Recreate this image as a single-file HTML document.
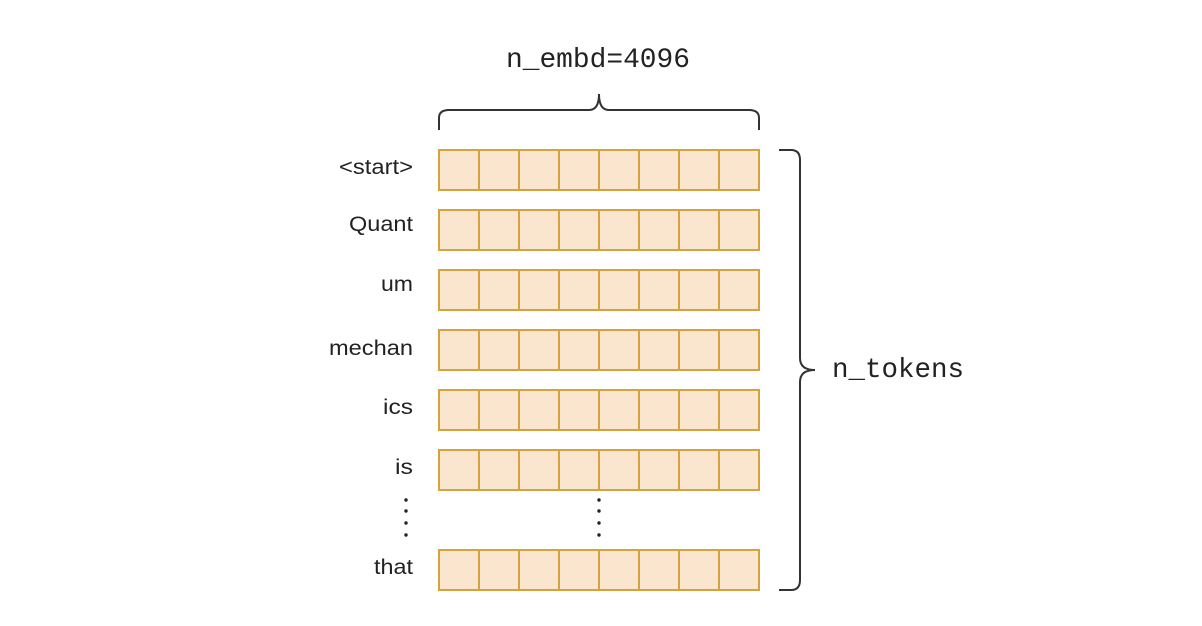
<!DOCTYPE html>
<html><head><meta charset="utf-8"><style>html,body{margin:0;padding:0;background:#fff}svg{display:block}</style></head>
<body>
<svg width="1202" height="626" viewBox="0 0 1202 626" xmlns="http://www.w3.org/2000/svg">
<rect width="1202" height="626" fill="#fff"/>
<g fill="#fae5cf" stroke="#d6a23f" stroke-width="2">
<rect x="439" y="150" width="40" height="40"/><rect x="479" y="150" width="40" height="40"/><rect x="519" y="150" width="40" height="40"/><rect x="559" y="150" width="40" height="40"/><rect x="599" y="150" width="40" height="40"/><rect x="639" y="150" width="40" height="40"/><rect x="679" y="150" width="40" height="40"/><rect x="719" y="150" width="40" height="40"/>
<rect x="439" y="210" width="40" height="40"/><rect x="479" y="210" width="40" height="40"/><rect x="519" y="210" width="40" height="40"/><rect x="559" y="210" width="40" height="40"/><rect x="599" y="210" width="40" height="40"/><rect x="639" y="210" width="40" height="40"/><rect x="679" y="210" width="40" height="40"/><rect x="719" y="210" width="40" height="40"/>
<rect x="439" y="270" width="40" height="40"/><rect x="479" y="270" width="40" height="40"/><rect x="519" y="270" width="40" height="40"/><rect x="559" y="270" width="40" height="40"/><rect x="599" y="270" width="40" height="40"/><rect x="639" y="270" width="40" height="40"/><rect x="679" y="270" width="40" height="40"/><rect x="719" y="270" width="40" height="40"/>
<rect x="439" y="330" width="40" height="40"/><rect x="479" y="330" width="40" height="40"/><rect x="519" y="330" width="40" height="40"/><rect x="559" y="330" width="40" height="40"/><rect x="599" y="330" width="40" height="40"/><rect x="639" y="330" width="40" height="40"/><rect x="679" y="330" width="40" height="40"/><rect x="719" y="330" width="40" height="40"/>
<rect x="439" y="390" width="40" height="40"/><rect x="479" y="390" width="40" height="40"/><rect x="519" y="390" width="40" height="40"/><rect x="559" y="390" width="40" height="40"/><rect x="599" y="390" width="40" height="40"/><rect x="639" y="390" width="40" height="40"/><rect x="679" y="390" width="40" height="40"/><rect x="719" y="390" width="40" height="40"/>
<rect x="439" y="450" width="40" height="40"/><rect x="479" y="450" width="40" height="40"/><rect x="519" y="450" width="40" height="40"/><rect x="559" y="450" width="40" height="40"/><rect x="599" y="450" width="40" height="40"/><rect x="639" y="450" width="40" height="40"/><rect x="679" y="450" width="40" height="40"/><rect x="719" y="450" width="40" height="40"/>
<rect x="439" y="550" width="40" height="40"/><rect x="479" y="550" width="40" height="40"/><rect x="519" y="550" width="40" height="40"/><rect x="559" y="550" width="40" height="40"/><rect x="599" y="550" width="40" height="40"/><rect x="639" y="550" width="40" height="40"/><rect x="679" y="550" width="40" height="40"/><rect x="719" y="550" width="40" height="40"/>
</g>
<g fill="none" stroke="#333" stroke-width="2">
<path d="M439 130 V118 Q439 110 449 110 H589 Q599 110 599 94 Q599 110 609 110 H749 Q759 110 759 118 V130"/>
<path d="M779 150 H791 Q800 150 800 160 V358 Q800 370 815 370 Q800 370 800 382 V580 Q800 590 791 590 H779"/>
</g>
<g fill="#222">
<circle cx="406" cy="500" r="1.7"/><circle cx="406" cy="511" r="1.7"/><circle cx="406" cy="523" r="1.7"/><circle cx="406" cy="535" r="1.7"/>
<circle cx="599" cy="500" r="1.7"/><circle cx="599" cy="511" r="1.7"/><circle cx="599" cy="523" r="1.7"/><circle cx="599" cy="535" r="1.7"/>
</g>
<g font-family="Liberation Sans, Arial, sans-serif" font-size="21" fill="#222" text-anchor="end">
<text x="413" y="174" textLength="74" lengthAdjust="spacingAndGlyphs">&lt;start&gt;</text>
<text x="413" y="231" textLength="64" lengthAdjust="spacingAndGlyphs">Quant</text>
<text x="413" y="291" textLength="32" lengthAdjust="spacingAndGlyphs">um</text>
<text x="413" y="355" textLength="84" lengthAdjust="spacingAndGlyphs">mechan</text>
<text x="413" y="414" textLength="30" lengthAdjust="spacingAndGlyphs">ics</text>
<text x="413" y="474" textLength="18" lengthAdjust="spacingAndGlyphs">is</text>
<text x="413" y="574" textLength="39" lengthAdjust="spacingAndGlyphs">that</text>
</g>
<g font-family="Liberation Mono, monospace" font-size="28" fill="#222">
<text x="506" y="67" textLength="184" lengthAdjust="spacingAndGlyphs">n_embd=4096</text>
<text x="832" y="377" textLength="132" lengthAdjust="spacingAndGlyphs">n_tokens</text>
</g>
</svg>
</body></html>
